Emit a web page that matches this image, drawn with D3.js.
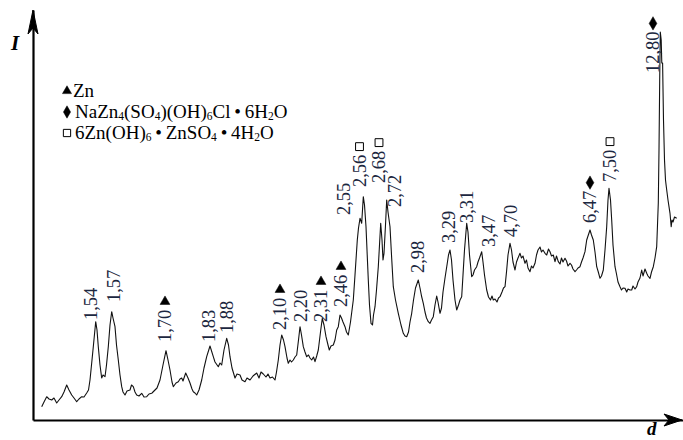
<!DOCTYPE html>
<html>
<head>
<meta charset="utf-8">
<script src="https://cdn.jsdelivr.net/npm/d3@7"></script>
<style>
body{margin:0;background:#fff;}
svg{display:block;font-family:"Liberation Serif","Times New Roman",serif;}
</style>
</head>
<body>
<svg id="svg" width="683" height="440"></svg>
<script>
// scan position (arbitrary units along d axis) and intensity
var scanPos=[8.7,11,13.7,16,18.7,21,23.7,26,28.7,31,33.7,36,38.7,41,43.7,46,48.7,51,53.7,55.5,57,59,60.3,62.7,64,65.3,67,68.7,70,72,73.5,75.3,77,78.7,80,82,83.5,85.3,87,88.7,90,92,94,97,98.5,100.3,102,103.7,106,108.7,111,113.7,116,118.7,120,122,124,127,130,133,135,137,139,140.3,143,145.3,147,148.7,150,152.7,155,157,159,160.3,162,163.7,166,168.7,171,173.7,177,180.3,182,185.3,187,188.7,191,193.7,195.5,197,199,202,204,207,209,212,214,217,220,223.7,226,228,230.3,233,235,237,239.5,242,243.5,245.3,247,248.7,250.5,252,254,255.3,257,258.5,260.3,262,263.7,265.5,267,268.5,270.3,272,273.7,275.5,277,278.7,280.5,282,283.7,285.3,287.5,289.3,291,293,295,296.3,298,300.3,302,303.7,305.3,307,308.5,310,312,313.5,315.3,317.5,320.3,322,324.3,325.5,327,328.7,330.3,331.5,333,334,335.3,336.5,338,339.5,340.5,342,343.5,345.3,346.5,347.7,349,350,351,352.5,353.7,355,357,358.5,360.3,362.5,365.3,368,370.3,372,373.7,375.5,377,378.7,380.5,382.5,385.3,387,388.5,390.3,392,393.5,395.3,397,398.5,400.3,402,403.7,405,407,408.5,410,412,414,415.5,417,418.5,420,422,423.7,425.5,427,428.7,430,431.5,433.7,435,436.5,438.7,440,441.5,443.7,445,446.5,448.7,450,451.5,453.7,455.5,457.5,459,460.3,462,464,465.5,467,469,470.5,472,473.5,475,477,478.5,480,482,483.5,485,487,488.5,490,492,493.5,495,497,498.5,500,502,503.5,505,507,508.5,510,512,513.7,515.5,517,518.5,520.3,522,523.5,525.3,527,528.5,530,532,533.5,535,537,538.5,540,542,543.5,545,547,548.5,550,552,553.7,555,557,558.5,560.3,562,563.7,565.3,567,568.5,570.3,572,573.7,575,576,577.5,578.7,580,582,583.5,585,587,588.5,590,592,593.7,595,597,598.7,600,602,603.7,605,607,608.7,610,612,613.7,615,617,618.5,620.3,622,623.7,624.5,625.3,626,626.7,627.3,628.2,628.8,629.6,630.5,631.5,632.5,633.3,635,637,638.2,639,640,641.5,643.7];
var scanInt=[13.3,18,23.3,21,20,22,17,20,23.3,28,35,30,25,22,18.3,21,23.3,23,27,30,40,60,73.3,98.3,90,73.3,55,42,45,43.3,55,73.3,95,108.3,102,93.3,75,60,45,33.3,28,25,29,30,35,33.3,28,25,24,26.7,23,23.3,26,26.7,28,30,32,40,55,69.3,60,50,38,33.3,37,38.3,41,42,39,47,42,37,31,28.3,27,25,30,40,52,63.3,74,63.3,58,53.3,57,55,70,81.7,75,63.3,52,42,46,45,40,38.3,42,40,44,47,42,48,46,43,46,42,43,40,48,60,75,85,80,73.3,62,56.7,60,58,60,63,65,80,93.3,85,73.3,68,63.3,65,62,60,63,58.3,64,70,88,101.7,95,83.3,75,70,74,75,80,90,93.3,105,102,98,93.3,88,85,98,120,145,180,192,201.7,196.7,223.3,215,193.3,170,140,115,96.7,95,105,113.3,130,153.3,175,196.7,180,160,166.7,195,220,208,193.3,165,133.3,120,106.7,95,86.7,84,83.3,88,98,106.7,120,132,140,132,124,116.7,108,102,98.3,96.7,100,103.3,115,124,118,106.7,112,128,142,155,165,170,160,140,120,110,115,120,123.3,145,170,196.7,188,165,143.3,145,150,153.3,158,162,168.3,158,145,130,123,120,124,120,121,118,122,123.3,128,132,133.3,148,165,176.7,170,158,150,158,162,166.7,162,164,156.7,160,152,148.3,154,152,156.7,165,170,173,168,170,166.7,165,171,168.3,164,165,158.3,164,158.3,156,162,158,161.7,159,154,156.7,155,151,148.3,150,152,153.3,158,162,168.3,180,184,190,185,180,168,153.3,148,141.7,144,150,170,193.3,220,231.7,220,200,175,153.3,146,138,133.3,130,132,131.7,128,131,130,130,134,131,133.3,138,142,150,144,151,146.7,144,141.7,148,153.3,162,173.3,195,217,270,340,388,380,357,357,300,260,240,233.3,220,206.7,193.3,200,198,203,201.7];

// peak labels (d, Å), where they sit, and their phase
var peakLabels=["1,54","1,57","1,70","1,83","1,88","2,10","2,20","2,31","2,46","2,55","2,56","2,68","2,72","2,98","3,29","3,31","3,47","4,70","6,47","7,50","12,80"];
var peakPos=[57.5,80.5,132,176,194,247,268,288,308,311,326.5,346,362,385,416,434,456,478,557,577,620];
var peakTop=[100,118,78,78,87,90,98,98,113,205,233,237,213,147,177,197,173,183,197,238,347];
var peakPhase=["","","zn","","","zn","","zn","zn","","bs","bs","","","","","","","na","bs","na"];

var phaseKeys=["zn","na","bs"];
var phaseNames=["Zn","NaZn_4(SO_4)(OH)_6Cl\u2009\u2022\u20096H_2O","6Zn(OH)_6\u2009\u2022\u2009ZnSO_4\u2009\u2022\u20094H_2O"];

var svg=d3.select("#svg");

var x=d3.scaleLinear().domain([0,650]).range([33,683]);
var y=d3.scaleLinear().domain([0,410]).range([420,10]);

var symbols={
	zn:{type:d3.symbolTriangle,fill:"#000",size:42},
	na:{type:d3.symbolDiamond,fill:"#000",size:52},
	bs:{type:d3.symbolSquare,fill:"#fff",size:62}
};

// axes, no ticks
var xaxis=svg.append("g")
.attr("transform","translate(0,"+y(0)+")")
.call(d3.axisBottom(x).tickValues([]).tickSizeOuter(0));
var yaxis=svg.append("g")
.attr("transform","translate("+x(0)+",0)")
.call(d3.axisLeft(y).tickValues([]).tickSizeOuter(0));
svg.selectAll(".domain").attr("stroke","#000").attr("stroke-width",2.2);

// arrow heads
svg.append("path")
.attr("d","M0,0L-18,-6L-13,0L-18,6Z")
.attr("transform","translate("+(x(650)-1)+","+y(0)+")")
.attr("fill","#000").attr("stroke","#000").attr("stroke-width",1);
svg.append("path")
.attr("d","M0,0L-5,24L0,18L5,24Z")
.attr("transform","translate("+x(0)+","+y(410)+")")
.attr("fill","#000").attr("stroke","#000").attr("stroke-width",1);

svg.append("text").attr("x",11).attr("y",50)
.attr("font-size",21).attr("font-weight","bold").attr("font-style","italic").text("I");
svg.append("text").attr("x",647).attr("y",435)
.attr("font-size",19).attr("font-weight","bold").attr("font-style","italic").text("d");

// the scan
var line=d3.line()
.x(function(d,i){return x(scanPos[i]);})
.y(function(d,i){return y(scanInt[i]);});
svg.append("path")
.datum(scanPos)
.attr("d",line)
.attr("fill","none")
.attr("stroke","#111")
.attr("stroke-width",1.1)
.attr("stroke-linejoin","round");

// peak labels
var lab=svg.append("g").attr("font-size",18.5).attr("fill","#1c2740");
peakLabels.forEach(function(t,i){
	var cx=x(peakPos[i]),by=y(peakTop[i]);
	var txt=lab.append("text")
	.attr("transform","translate("+cx+","+by+") rotate(-90)")
	.attr("dy","0.34em")
	.text(t);
	var len=txt.node().getComputedTextLength();
	var ph=peakPhase[i];
	if(ph){
		var s=symbols[ph];
		svg.append("path")
		.attr("d",d3.symbol().type(s.type).size(s.size)())
		.attr("transform","translate("+cx+","+(by-len-8)+")")
		.attr("fill",s.fill)
		.attr("stroke","#000")
		.attr("stroke-width",ph=="bs"?1:0.5);
	}
});

// legend
var leg=svg.append("g").attr("font-size",19).attr("fill","#000");
phaseKeys.forEach(function(k,i){
	var by=97+i*21;
	var s=symbols[k];
	leg.append("path")
	.attr("d",d3.symbol().type(s.type).size(s.size*0.85)())
	.attr("transform","translate(67,"+(by-6)+")")
	.attr("fill",s.fill)
	.attr("stroke","#000")
	.attr("stroke-width",k=="bs"?1:0.5);
	var t=leg.append("text").attr("x",k=="zn"?73:75).attr("y",by);
	var parts=phaseNames[i].split(/_(\d)/);
	parts.forEach(function(p,j){
		if(!p)return;
		if(j%2==1){
			t.append("tspan").attr("font-size",11.5).attr("dy",2).text(p);
		}else{
			var ts=t.append("tspan").text(p);
			if(j>0)ts.attr("dy",-2);
		}
	});
});
</script>
</body>
</html>
